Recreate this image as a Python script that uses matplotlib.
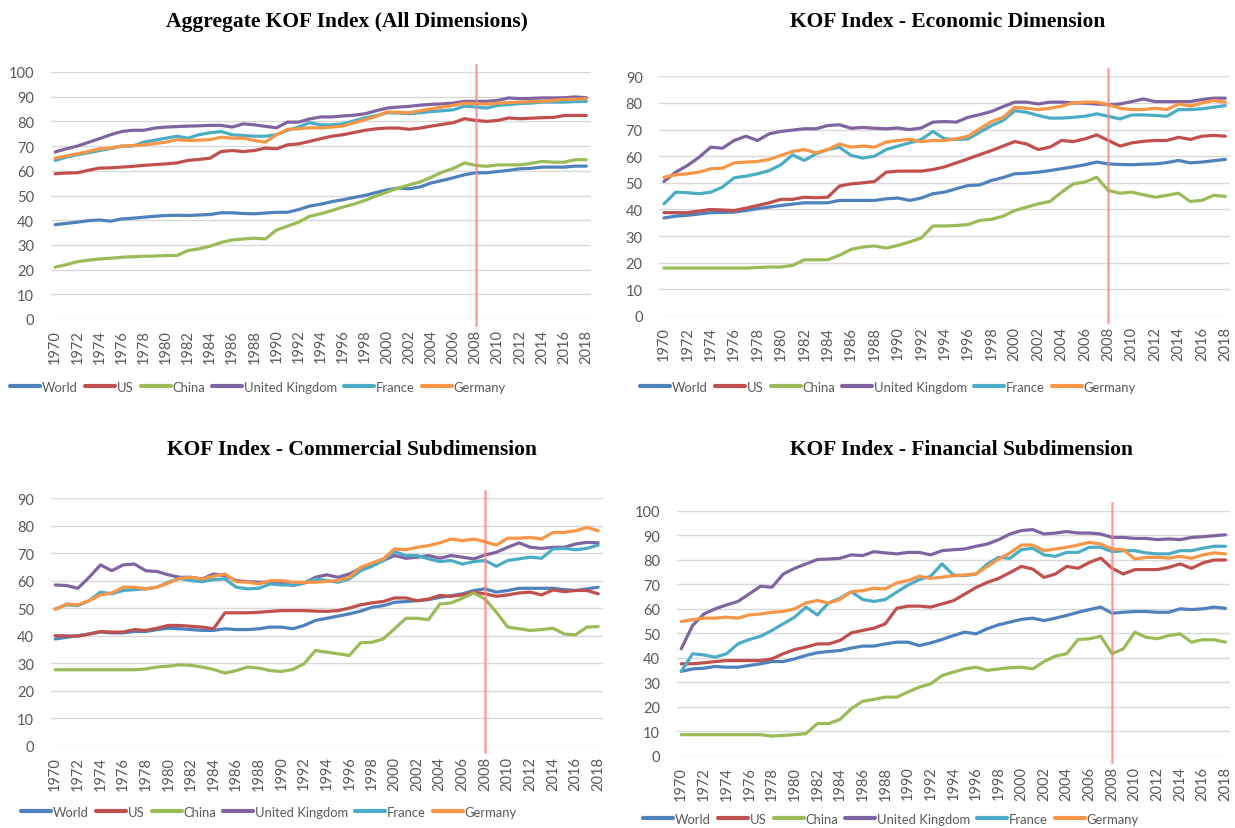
import numpy as np
import matplotlib
matplotlib.use("Agg")
import matplotlib.pyplot as plt

# --- Data ---
years = list(range(1970, 2019))
countries = ["World", "US", "China", "United Kingdom", "France", "Germany"]
colors = ["#4F81BD", "#C0504D", "#9BBB59", "#8064A2", "#4BACC6", "#F79646"]

# Aggregate KOF index
agg_world = [38.2, 38.7, 39.2, 39.8, 40.1, 39.6, 40.5, 40.8, 41.2, 41.6, 41.9, 42.0, 41.9, 42.1, 42.3, 43.0, 43.0,
             42.7, 42.6, 42.9, 43.2, 43.2, 44.3, 45.7, 46.5, 47.5, 48.3, 49.2, 50.0, 51.2, 52.3, 53.0, 52.7, 53.5,
             55.1, 56.1, 57.2, 58.4, 59.2, 59.2, 59.7, 60.2, 60.8, 61.0, 61.5, 61.5, 61.5, 61.9, 61.9]
agg_us = [58.8, 59.1, 59.2, 60.2, 61.1, 61.2, 61.5, 61.8, 62.2, 62.5, 62.8, 63.2, 64.2, 64.6, 65.1, 67.8, 68.2, 67.8,
          68.2, 69.2, 68.9, 70.5, 70.9, 71.9, 73.0, 74.0, 74.6, 75.5, 76.4, 77.0, 77.3, 77.3, 76.8, 77.3, 78.1, 78.8,
          79.5, 81.1, 80.4, 80.0, 80.4, 81.4, 81.1, 81.3, 81.5, 81.6, 82.4, 82.4, 82.4]
agg_china = [21.0, 22.0, 23.2, 23.8, 24.3, 24.6, 25.0, 25.2, 25.4, 25.5, 25.7, 25.7, 27.7, 28.4, 29.5, 31.0, 32.0,
             32.4, 32.7, 32.4, 36.0, 37.6, 39.2, 41.6, 42.6, 43.9, 45.3, 46.5, 48.0, 49.8, 51.4, 53.0, 54.3, 55.5,
             57.4, 59.5, 61.0, 63.2, 62.2, 61.8, 62.4, 62.4, 62.4, 63.0, 63.8, 63.5, 63.5, 64.5, 64.5]
agg_uk = [67.6, 68.9, 70.0, 71.5, 73.0, 74.6, 75.9, 76.4, 76.4, 77.3, 77.7, 77.9, 78.1, 78.2, 78.4, 78.4, 77.7, 79.0,
          78.6, 78.0, 77.4, 79.7, 79.7, 81.0, 81.8, 81.8, 82.2, 82.5, 83.1, 84.3, 85.4, 85.8, 86.1, 86.6, 86.9, 87.1,
          87.4, 88.1, 88.1, 88.1, 88.5, 89.5, 89.2, 89.3, 89.5, 89.5, 89.6, 89.9, 89.6]
agg_france = [64.2, 65.5, 66.5, 67.3, 68.2, 69.0, 70.0, 70.0, 71.6, 72.4, 73.2, 74.0, 73.2, 74.6, 75.4, 75.9, 74.6,
              74.3, 74.0, 74.0, 74.6, 76.4, 77.7, 79.5, 78.6, 78.6, 79.0, 80.2, 81.4, 82.3, 83.5, 83.4, 83.1, 83.5,
              84.0, 84.3, 84.7, 86.2, 85.8, 85.4, 86.5, 86.8, 87.2, 87.4, 87.8, 87.8, 87.8, 88.0, 88.1]
agg_germany = [65.1, 66.0, 66.9, 67.8, 68.9, 69.2, 70.0, 70.2, 70.5, 71.0, 71.6, 72.6, 72.3, 72.4, 72.6, 73.6, 73.2,
               73.2, 72.3, 71.6, 74.6, 76.8, 77.0, 77.4, 77.4, 77.7, 78.1, 79.4, 80.7, 82.0, 83.8, 83.7, 83.5, 84.3,
               85.1, 85.8, 86.5, 87.4, 87.2, 87.0, 87.4, 87.6, 87.8, 88.0, 88.1, 88.5, 88.9, 89.0, 89.2]

# Economic dimension
eco_world = [36.8, 37.5, 37.8, 38.3, 38.8, 38.9, 39.0, 39.6, 40.3, 40.9, 41.5, 42.0, 42.5, 42.5, 42.5, 43.4, 43.4,
             43.4, 43.4, 44.0, 44.3, 43.4, 44.3, 45.9, 46.5, 47.8, 49.0, 49.2, 50.9, 52.0, 53.4, 53.6, 54.0, 54.6,
             55.3, 56.0, 56.8, 57.8, 57.1, 56.9, 56.8, 57.0, 57.1, 57.6, 58.4, 57.5, 57.8, 58.3, 58.8]
eco_us = [38.8, 38.8, 38.8, 39.4, 40.0, 39.8, 39.6, 40.5, 41.5, 42.5, 43.8, 43.8, 44.6, 44.4, 44.6, 48.8, 49.6, 50.0,
          50.5, 54.0, 54.4, 54.4, 54.4, 55.0, 56.0, 57.5, 59.0, 60.6, 62.1, 63.8, 65.5, 64.6, 62.5, 63.4, 65.9, 65.5,
          66.5, 68.0, 65.9, 63.8, 65.0, 65.6, 65.9, 65.9, 67.1, 66.3, 67.5, 67.8, 67.5]
eco_china = [18.0, 18.0, 18.0, 18.0, 18.0, 18.0, 18.0, 18.0, 18.2, 18.4, 18.4, 19.0, 21.1, 21.1, 21.1, 22.8, 25.0,
             25.9, 26.3, 25.5, 26.5, 27.8, 29.3, 33.8, 33.8, 34.0, 34.3, 35.9, 36.3, 37.5, 39.6, 40.9, 42.1, 43.0,
             46.5, 49.6, 50.3, 52.1, 47.1, 46.1, 46.5, 45.5, 44.6, 45.3, 46.1, 43.0, 43.4, 45.3, 44.9]
eco_uk = [50.5, 54.0, 56.5, 59.6, 63.4, 63.0, 65.9, 67.5, 65.9, 68.4, 69.3, 69.8, 70.3, 70.3, 71.5, 71.8, 70.5, 70.8,
          70.5, 70.3, 70.6, 70.0, 70.6, 72.8, 73.0, 72.8, 74.6, 75.6, 76.8, 78.6, 80.3, 80.3, 79.6, 80.3, 80.3, 80.0,
          79.9, 79.6, 79.3, 79.6, 80.5, 81.5, 80.5, 80.5, 80.5, 80.5, 81.3, 81.8, 81.8]
eco_france = [42.1, 46.5, 46.3, 45.9, 46.5, 48.4, 51.9, 52.5, 53.4, 54.6, 56.8, 60.5, 58.4, 60.9, 62.5, 63.4, 60.3,
              59.3, 60.0, 62.5, 63.8, 65.0, 66.3, 69.3, 66.5, 66.3, 66.5, 69.0, 71.5, 73.4, 77.1, 76.5, 75.3, 74.3,
              74.3, 74.6, 75.0, 75.9, 75.0, 74.0, 75.5, 75.5, 75.3, 75.0, 77.5, 77.5, 77.8, 78.4, 79.0]
eco_germany = [52.1, 53.0, 53.4, 54.0, 55.3, 55.5, 57.5, 57.8, 58.0, 58.8, 60.3, 61.8, 62.5, 61.3, 62.5, 64.6, 63.4,
               63.8, 63.4, 65.3, 65.9, 66.3, 65.5, 65.9, 65.9, 66.5, 67.5, 70.3, 73.0, 74.6, 78.4, 78.0, 77.5, 78.0,
               78.8, 80.0, 80.3, 80.3, 79.3, 78.0, 77.5, 77.5, 78.0, 77.5, 79.6, 78.8, 80.0, 80.9, 80.3]

# Commercial subdimension
com_world = [38.9, 39.5, 40.1, 40.7, 41.4, 41.1, 41.1, 41.6, 41.6, 42.3, 42.8, 42.6, 42.3, 42.0, 42.0, 42.6, 42.3,
             42.3, 42.6, 43.2, 43.2, 42.6, 43.8, 45.6, 46.4, 47.2, 48.0, 49.0, 50.4, 51.0, 52.2, 52.5, 52.8, 53.2,
             54.0, 54.6, 55.3, 56.5, 57.1, 55.9, 56.5, 57.3, 57.3, 57.3, 57.3, 56.8, 56.5, 57.1, 57.7]
com_us = [40.1, 40.0, 39.9, 40.7, 41.6, 41.4, 41.4, 42.3, 42.0, 42.8, 43.8, 43.8, 43.5, 43.2, 42.6, 48.4, 48.4, 48.4,
          48.6, 48.9, 49.2, 49.2, 49.2, 49.0, 48.9, 49.2, 50.1, 51.3, 52.0, 52.5, 53.8, 53.8, 52.8, 53.4, 54.7, 54.4,
          54.9, 55.9, 55.3, 54.4, 54.9, 55.6, 55.9, 54.9, 56.7, 56.1, 56.5, 56.5, 55.3]
com_china = [27.7, 27.7, 27.7, 27.7, 27.7, 27.7, 27.7, 27.7, 28.0, 28.7, 29.0, 29.5, 29.3, 28.7, 27.8, 26.5, 27.4,
             28.7, 28.3, 27.4, 27.1, 27.8, 29.9, 34.7, 34.1, 33.5, 32.9, 37.5, 37.7, 38.9, 42.6, 46.4, 46.4, 45.9,
             51.6, 52.0, 53.7, 55.6, 53.4, 48.6, 43.2, 42.6, 42.0, 42.3, 42.8, 40.7, 40.4, 43.2, 43.4]
com_uk = [58.5, 58.3, 57.3, 61.3, 65.8, 63.7, 65.8, 66.1, 63.7, 63.4, 62.2, 61.3, 61.3, 60.7, 62.5, 61.9, 60.1, 59.7,
          59.5, 59.5, 59.5, 58.3, 59.2, 61.3, 62.2, 61.3, 62.5, 64.6, 65.8, 67.4, 69.2, 68.2, 68.6, 69.2, 68.2, 69.2,
          68.6, 68.0, 69.4, 70.4, 72.2, 73.8, 72.2, 71.8, 72.2, 72.2, 73.4, 74.0, 73.8]
com_france = [49.8, 51.3, 51.0, 52.8, 55.9, 55.3, 56.5, 56.8, 57.1, 57.7, 59.5, 60.9, 60.1, 59.7, 60.5, 60.7, 57.7,
              57.1, 57.3, 58.9, 58.5, 58.5, 59.2, 60.7, 60.1, 59.5, 60.7, 63.7, 65.3, 67.4, 70.6, 69.2, 69.2, 68.0,
              67.0, 67.4, 66.1, 67.0, 67.4, 65.3, 67.4, 68.0, 68.6, 68.2, 71.6, 71.8, 71.3, 71.8, 73.0]
com_germany = [49.6, 51.6, 51.3, 52.8, 54.9, 55.6, 57.7, 57.7, 57.1, 57.7, 59.2, 60.9, 61.3, 60.7, 61.7, 62.5, 59.7,
               59.5, 58.9, 60.1, 60.1, 59.5, 59.5, 59.5, 59.8, 60.1, 61.3, 64.9, 66.5, 68.0, 71.6, 71.3, 72.2, 72.8,
               73.8, 75.2, 74.6, 75.2, 74.2, 73.0, 75.5, 75.5, 75.8, 75.2, 77.6, 77.6, 78.2, 79.4, 78.2]

# Financial subdimension
fin_world = [34.5, 35.5, 35.8, 36.5, 36.2, 36.2, 36.9, 37.6, 38.5, 38.5, 39.6, 41.0, 42.1, 42.6, 43.0, 44.0, 44.8,
             44.8, 45.7, 46.4, 46.4, 45.0, 46.1, 47.5, 49.1, 50.5, 49.8, 51.9, 53.5, 54.6, 55.7, 56.2, 55.2, 56.2,
             57.3, 58.6, 59.7, 60.7, 58.2, 58.6, 58.9, 58.9, 58.6, 58.6, 60.0, 59.7, 60.0, 60.7, 60.2]
fin_us = [37.6, 37.6, 38.0, 38.5, 38.9, 38.9, 38.9, 38.9, 39.6, 41.7, 43.4, 44.4, 45.7, 45.7, 47.1, 50.2, 51.2, 52.1,
          53.9, 60.2, 61.1, 61.1, 60.7, 62.0, 63.3, 66.0, 68.7, 70.8, 72.4, 74.8, 77.3, 76.2, 72.8, 74.2, 77.3, 76.5,
          78.9, 80.7, 76.5, 74.2, 76.0, 76.0, 76.0, 76.9, 78.3, 76.5, 78.7, 79.9, 79.9]
fin_china = [8.7, 8.7, 8.7, 8.7, 8.7, 8.7, 8.7, 8.7, 8.1, 8.4, 8.7, 9.1, 13.2, 13.2, 14.9, 19.3, 22.3, 23.1, 24.0,
             24.0, 26.1, 28.1, 29.4, 32.8, 34.2, 35.5, 36.2, 34.9, 35.5, 36.0, 36.2, 35.5, 38.5, 40.7, 41.7, 47.5,
             47.8, 48.8, 41.7, 43.7, 50.5, 48.4, 47.8, 49.1, 49.8, 46.4, 47.4, 47.4, 46.4]
fin_uk = [43.7, 53.2, 57.9, 60.0, 61.6, 63.0, 66.1, 69.2, 68.8, 74.2, 76.5, 78.3, 80.1, 80.3, 80.6, 82.0, 81.7, 83.3,
          82.8, 82.4, 83.0, 83.0, 82.0, 83.7, 84.1, 84.4, 85.5, 86.4, 88.2, 90.5, 91.9, 92.3, 90.5, 90.9, 91.5, 90.9,
          90.9, 90.5, 89.1, 89.1, 88.7, 88.7, 88.2, 88.5, 88.2, 89.1, 89.4, 89.8, 90.2]
fin_france = [34.5, 41.7, 41.2, 40.3, 41.7, 45.7, 47.5, 48.8, 51.2, 53.9, 56.6, 60.7, 57.5, 62.4, 64.3, 67.0, 63.8,
              63.0, 63.8, 66.8, 69.7, 71.9, 73.3, 78.3, 73.8, 73.5, 74.2, 78.3, 81.0, 80.6, 84.1, 84.7, 82.0, 81.4,
              83.0, 83.0, 85.1, 85.1, 83.3, 83.7, 83.7, 82.8, 82.4, 82.4, 83.7, 83.7, 84.7, 85.5, 85.5]
fin_germany = [54.8, 55.6, 56.2, 56.2, 56.6, 56.2, 57.5, 57.9, 58.6, 58.9, 60.0, 62.4, 63.4, 62.4, 63.8, 67.0, 67.4,
               68.4, 68.1, 70.6, 71.5, 73.3, 72.4, 72.9, 73.5, 73.8, 74.2, 77.3, 80.3, 82.8, 86.0, 86.0, 83.7, 84.4,
               85.1, 86.0, 87.1, 86.4, 84.4, 84.1, 80.3, 81.0, 81.0, 80.7, 81.4, 80.6, 82.0, 82.8, 82.4]

crisis_year = 2008

GREY = "#595959"
TICK_FONT = "Lato"

fig = plt.figure(figsize=(12.35, 8.29), dpi=100)


def px_box(x0, y_top, x1, y_bot):
    # pixel box (top-left origin) -> figure fraction [l, b, w, h]
    W, H = 1235.0, 829.0
    return [x0 / W, 1 - y_bot / H, (x1 - x0) / W, (y_bot - y_top) / H]


def draw_panel(box, series, ymax, title, title_xy, legend_xy):
    ax = fig.add_axes(box)
    for vals, name, c in zip(series, countries, colors):
        ax.plot(years, vals, color=c, lw=2.3, label=name, solid_capstyle="round")
    ax.axvline(crisis_year, ymin=-0.025, ymax=1.03, color="#FF8080", lw=1.8, alpha=0.75, clip_on=False)
    ax.set_xlim(1969.6, 2018.4)
    ax.set_ylim(0, ymax)
    ax.set_yticks(np.arange(0, ymax + 1, 10))
    ax.set_xticks(years[::2])
    ax.set_xticklabels([str(y) for y in years[::2]], rotation=90)
    ax.grid(axis="y", color="#D9D9D9", lw=1)
    ax.set_axisbelow(True)
    for s in ax.spines.values():
        s.set_visible(False)
    ax.tick_params(length=0, colors=GREY, labelsize=10.5, pad=7)
    ax.tick_params(axis="y", pad=12)
    for lab in ax.get_xticklabels() + ax.get_yticklabels():
        lab.set_fontfamily(TICK_FONT)
    fig.text(title_xy[0] / 1235, 1 - title_xy[1] / 829, title, ha="center", va="center",
             fontsize=15.5, fontweight="bold", family="Liberation Serif")
    leg = ax.legend(loc="center", bbox_to_anchor=(legend_xy[0] / 1235, 1 - legend_xy[1] / 829),
                    bbox_transform=fig.transFigure, ncol=6, frameon=False,
                    prop={"family": TICK_FONT, "size": 9.4}, handlelength=2.3, handletextpad=0.12,
                    columnspacing=0.55, borderaxespad=0, borderpad=0)
    for t in leg.get_texts():
        t.set_color(GREY)
    for h in leg.get_lines():
        h.set_linewidth(3)
    return ax


draw_panel(px_box(50.7, 73, 590.7, 320),
           [agg_world, agg_us, agg_china, agg_uk, agg_france, agg_germany], 100,
           "Aggregate KOF Index (All Dimensions)", (347, 22), (258, 388))
draw_panel(px_box(659.3, 77.3, 1230, 317),
           [eco_world, eco_us, eco_china, eco_uk, eco_france, eco_germany], 90,
           "KOF Index - Economic Dimension", (948, 22), (888, 388))
draw_panel(px_box(50.7, 499.3, 602.7, 747),
           [com_world, com_us, com_china, com_uk, com_france, com_germany], 90,
           "KOF Index - Commercial Subdimension", (352, 450), (269, 813))
draw_panel(px_box(676.7, 511.7, 1230, 757),
           [fin_world, fin_us, fin_china, fin_uk, fin_france, fin_germany], 100,
           "KOF Index - Financial Subdimension", (961, 450), (891, 820))

fig.savefig("out.png", dpi=100)
